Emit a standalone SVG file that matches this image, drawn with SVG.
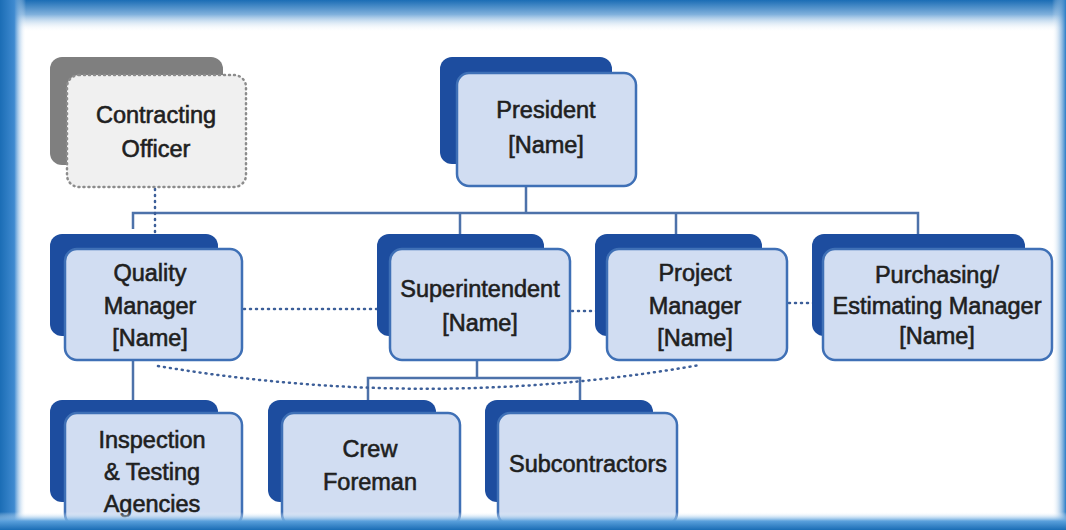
<svg xmlns="http://www.w3.org/2000/svg" width="1066" height="530" viewBox="0 0 1066 530">
<defs>
<linearGradient id="gTop" x1="0" y1="0" x2="0" y2="1"><stop offset="0" stop-color="#1b6db5"/><stop offset="0.45" stop-color="#7fb0dc"/><stop offset="1" stop-color="#ffffff" stop-opacity="0"/></linearGradient>
<linearGradient id="gLeft" x1="0" y1="0" x2="1" y2="0"><stop offset="0" stop-color="#1b6db5"/><stop offset="0.55" stop-color="#3f8ad0"/><stop offset="1" stop-color="#ffffff" stop-opacity="0"/></linearGradient>
<linearGradient id="gRight" x1="1" y1="0" x2="0" y2="0"><stop offset="0" stop-color="#2a7cc6"/><stop offset="1" stop-color="#ffffff" stop-opacity="0"/></linearGradient>
<linearGradient id="gBot" x1="0" y1="1" x2="0" y2="0"><stop offset="0" stop-color="#1b6db5"/><stop offset="0.5" stop-color="#5aa0dc"/><stop offset="1" stop-color="#ffffff" stop-opacity="0"/></linearGradient>
</defs>
<style>
.back{fill:#1d4d9f}
.front{fill:#d1ddf2;stroke:#3f70b6;stroke-width:2.5}
.gback{fill:#7f7f7f}
.gfront{fill:#f0f0f0;stroke:#8c8c8c;stroke-width:2.5;stroke-dasharray:1 4;stroke-linecap:round}
.t{font-family:"Liberation Sans",Arial,sans-serif;font-size:23.5px;fill:#1f1f1f;stroke:#1f1f1f;stroke-width:0.6;text-anchor:middle}
.ln{fill:none;stroke:#4d72aa;stroke-width:2.5}
.dot{fill:none;stroke:#3d5f99;stroke-width:2.5;stroke-dasharray:1 5;stroke-linecap:round}
</style>
<rect x="0" y="0" width="1066" height="530" fill="#ffffff"/>

<g id="connectors">
<path class="ln" d="M526,186 V213 M133,229 V213 H918 V234 M460,213 V234 M676,213 V234"/>
<path class="ln" d="M133,360 V400"/>
<path class="ln" d="M477,360 V378 M368,400 V378 H580 V400"/>
<path class="dot" d="M155,189 V249"/>
<path class="dot" d="M244,309 H388"/>
<path class="dot" d="M572,311 H605"/>
<path class="dot" d="M789,303 H821"/>
<path class="dot" d="M158,366 Q430,412 700,365"/>
</g>

<g id="contracting-officer">
<rect class="gback" x="50" y="57" width="173" height="108" rx="12"/>
<rect class="gfront" x="67" y="75" width="179" height="112" rx="12"/>
<text class="t" x="156" y="123">Contracting</text>
<text class="t" x="156" y="157">Officer</text>
</g>

<g id="president">
<rect class="back" x="440" y="57" width="172" height="107" rx="12"/>
<rect class="front" x="457" y="73" width="179" height="113" rx="12"/>
<text class="t" x="546" y="118">President</text>
<text class="t" x="546" y="153">[Name]</text>
</g>

<g id="quality-manager">
<rect class="back" x="50" y="234" width="168" height="102" rx="12"/>
<rect class="front" x="65" y="249" width="177" height="111" rx="12"/>
<text class="t" x="150" y="281">Quality</text>
<text class="t" x="150" y="314">Manager</text>
<text class="t" x="150" y="346">[Name]</text>
</g>

<g id="superintendent">
<rect class="back" x="377" y="234" width="167" height="102" rx="12"/>
<rect class="front" x="390" y="249" width="180" height="111" rx="12"/>
<text class="t" x="480" y="297">Superintendent</text>
<text class="t" x="480" y="331">[Name]</text>
</g>

<g id="project-manager">
<rect class="back" x="595" y="234" width="167" height="102" rx="12"/>
<rect class="front" x="607" y="249" width="180" height="111" rx="12"/>
<text class="t" x="695" y="281">Project</text>
<text class="t" x="695" y="314">Manager</text>
<text class="t" x="695" y="346">[Name]</text>
</g>

<g id="purchasing-manager">
<rect class="back" x="812" y="234" width="213" height="102" rx="12"/>
<rect class="front" x="823" y="249" width="229" height="111" rx="12"/>
<text class="t" x="937" y="283">Purchasing/</text>
<text class="t" x="937" y="314">Estimating Manager</text>
<text class="t" x="937" y="344">[Name]</text>
</g>

<g id="inspection-testing">
<rect class="back" x="50" y="400" width="168" height="102" rx="12"/>
<rect class="front" x="65" y="413" width="177" height="113" rx="12"/>
<text class="t" x="152" y="448">Inspection</text>
<text class="t" x="152" y="480">&amp; Testing</text>
<text class="t" x="152" y="512">Agencies</text>
</g>

<g id="crew-foreman">
<rect class="back" x="268" y="400" width="168" height="102" rx="12"/>
<rect class="front" x="282" y="413" width="178" height="113" rx="12"/>
<text class="t" x="370" y="457">Crew</text>
<text class="t" x="370" y="490">Foreman</text>
</g>

<g id="subcontractors">
<rect class="back" x="485" y="400" width="168" height="102" rx="12"/>
<rect class="front" x="498" y="413" width="179" height="112" rx="12"/>
<text class="t" x="588" y="472">Subcontractors</text>
</g>

<g id="frame">
<rect x="0" y="0" width="1066" height="32" fill="url(#gTop)"/>
<rect x="0" y="0" width="26" height="530" fill="url(#gLeft)"/>
<rect x="1052" y="0" width="14" height="530" fill="url(#gRight)"/>
<rect x="0" y="512" width="1066" height="18" fill="url(#gBot)"/>
</g>
</svg>
